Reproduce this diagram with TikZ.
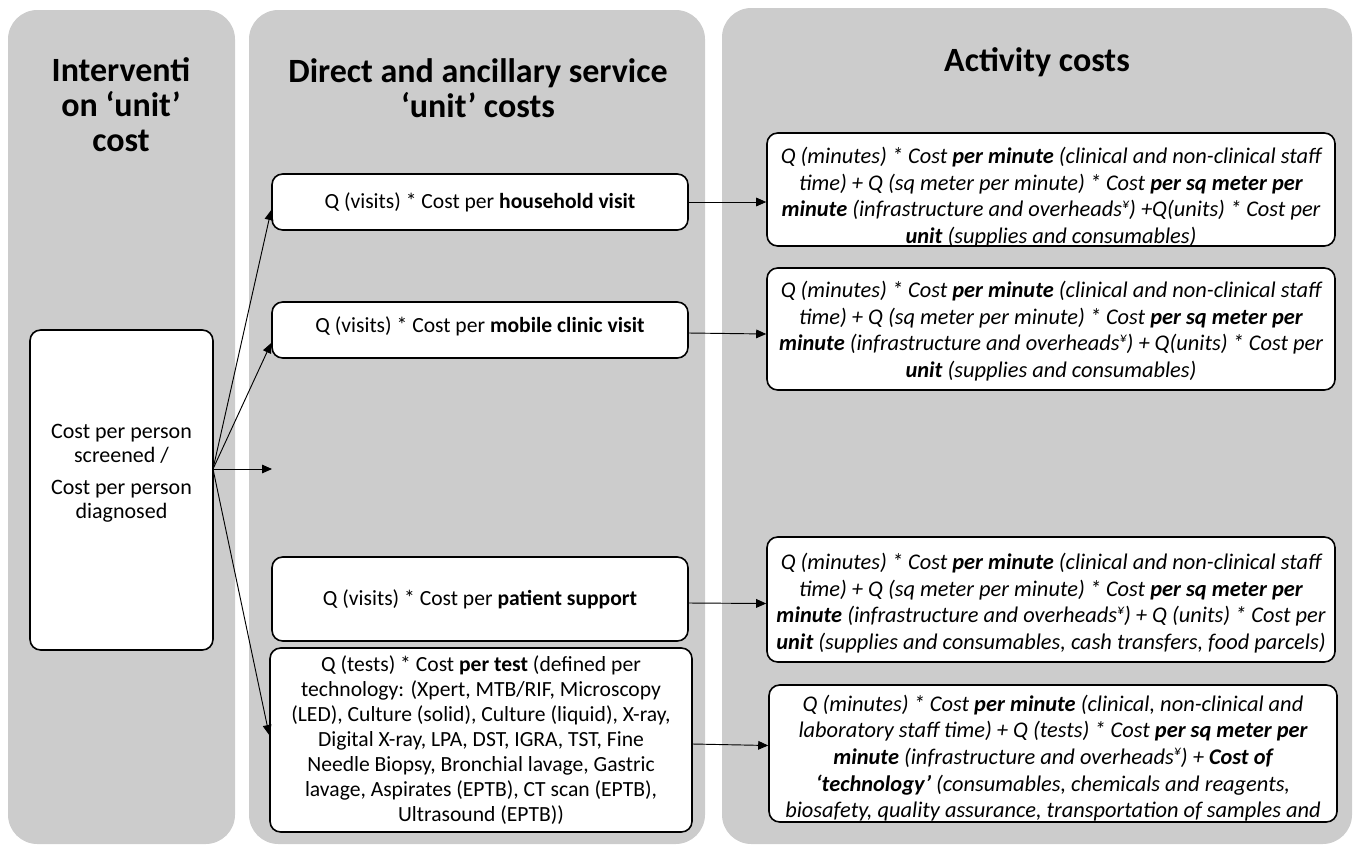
\documentclass[tikz,border=0pt]{standalone}
\usepackage{fontspec}
\setmainfont{Carlito}
\usetikzlibrary{arrows.meta,calc}
\newcommand{\yen}{\raisebox{0.8ex}{\fontsize{10.5}{10.5}\selectfont ¥}}

\begin{document}
\begin{tikzpicture}[x=0.75pt,y=-0.75pt,
  panel/.style={fill=black!20, draw=none},
  head/.style={font=\bfseries\fontsize{25.5}{26.3}\selectfont, align=center, inner sep=0pt},
  box/.style={draw=black, line width=1.2pt, fill=white, rounded corners=8pt, inner sep=0pt},
  btxt/.style={font=\fontsize{16.2}{18.75}\selectfont, align=center, inner sep=0pt},
  ltxt/.style={font=\fontsize{16.5}{18}\selectfont, align=center, inner sep=0pt},
  rtxt/.style={font=\itshape\fontsize{16.8}{20}\selectfont, align=center, inner sep=0pt},
  arr/.style={-{Triangle[length=7.5pt,width=6.5pt]}, line width=0.7pt}]

\useasboundingbox (0,0) rectangle (1355,846);

% three grey column panels
\fill[panel, rounded corners=22pt] (8,10) rectangle (235,844);
\fill[panel, rounded corners=22pt] (249,10) rectangle (705,844);
\fill[panel, rounded corners=22pt] (722,8) rectangle (1352,844);

% column headings
\node[head] (h1) at (121,105) {Interventi\\on ‘unit’\\cost};
\node[head] (h2) at (478,88) {Direct and ancillary service\\‘unit’ costs};
\node[head] (h3) at (1037,62) {Activity costs};

% left: intervention unit cost
\node[box, minimum width=183*0.75pt, minimum height=320*0.75pt] (lc) at (121.5,490) {};
\node[ltxt] (lct) at (121.5,473) {Cost per person\\screened /\\[6pt]Cost per person\\diagnosed};
\coordinate (hub) at (213,469);
\coordinate (free) at (272,469);

% middle: direct and ancillary service costs
\node[box, minimum width=416*0.75pt, minimum height=56*0.75pt] (b1) at (480,202) {};
\node[btxt] at (b1) {Q (visits) * Cost per \textbf{household visit}};
\node[box, minimum width=416*0.75pt, minimum height=56*0.75pt] (b2) at (480,330) {};
\node[btxt] at (480,326) {Q (visits) * Cost per \textbf{mobile clinic visit}};
\node[box, minimum width=416*0.75pt, minimum height=84*0.75pt] (b3) at (480,599) {};
\node[btxt] at (b3) {Q (visits) * Cost per \textbf{patient support}};
\node[box, minimum width=422*0.75pt, minimum height=184*0.75pt] (b4) at (481,740) {};
\node[btxt] at (481,740) {Q (tests) * Cost \textbf{per test} (defined per\\
  technology: (Xpert, MTB/RIF, Microscopy\\
  (LED), Culture (solid), Culture (liquid), X-ray,\\
  Digital X-ray, LPA, DST, IGRA, TST, Fine\\
  Needle Biopsy, Bronchial lavage, Gastric\\
  lavage, Aspirates (EPTB), CT scan (EPTB),\\
  Ultrasound (EPTB))};

% right: activity costs
\node[box, minimum width=568*0.75pt, minimum height=113*0.75pt] (r1) at (1051,189.5) {};
\node[rtxt] at (1051,197) {Q (minutes) * Cost \textbf{per minute} (clinical and non-clinical staff\\
  time) + Q (sq meter per minute) * Cost \textbf{per sq meter per}\\
  \textbf{minute} (infrastructure and overheads\yen) +Q(units) * Cost per\\
  \textbf{unit} (supplies and consumables)};
\node[box, minimum width=568*0.75pt, minimum height=122*0.75pt] (r2) at (1051,329) {};
\node[rtxt] at (1051,331) {Q (minutes) * Cost \textbf{per minute} (clinical and non-clinical staff\\
  time) + Q (sq meter per minute) * Cost \textbf{per sq meter per}\\
  \textbf{minute} (infrastructure and overheads\yen) + Q(units) * Cost per\\
  \textbf{unit} (supplies and consumables)};
\node[box, minimum width=568*0.75pt, minimum height=125*0.75pt] (r3) at (1051,599.5) {};
\node[rtxt] at (1051,603) {Q (minutes) * Cost \textbf{per minute} (clinical and non-clinical staff\\
  time) + Q (sq meter per minute) * Cost \textbf{per sq meter per}\\
  \textbf{minute} (infrastructure and overheads\yen) + Q (units) * Cost per\\
  \textbf{unit} (supplies and consumables, cash transfers, food parcels)};
\node[box, minimum width=568*0.75pt, minimum height=137*0.75pt] (r4) at (1053,753.5) {};
\node[rtxt] at (1053,758) {Q (minutes) * Cost \textbf{per minute} (clinical, non-clinical and\\
  laboratory staff time) + Q (tests) * Cost \textbf{per sq meter per}\\
  \textbf{minute} (infrastructure and overheads\yen) + \textbf{Cost of}\\
  \textbf{‘technology’} (consumables, chemicals and reagents,\\
  biosafety, quality assurance, transportation of samples and};

% connectors from the unit cost to the service costs
\draw[arr] (hub) -- ($(b1.west)+(0,8)$);
\draw[arr] (hub) -- ($(b2.west)+(0,13)$);
\draw[arr] (hub) -- (free);
\draw[arr] (hub) -- ($(b4.west)+(0,-5)$);

% connectors from the service costs to the activity costs
\draw[arr] (b1.east) -- (b1.east -| r1.west);
\draw[arr] ($(b2.east)+(0,3)$) -- ($(r2.west)+(0,5)$);
\draw[arr] ($(b3.east)+(0,4)$) -- ($(r3.west)+(0,4)$);
\draw[arr] ($(b4.east)+(0,4)$) -- ($(r4.west)+(0,-8)$);
\end{tikzpicture}
\end{document}
